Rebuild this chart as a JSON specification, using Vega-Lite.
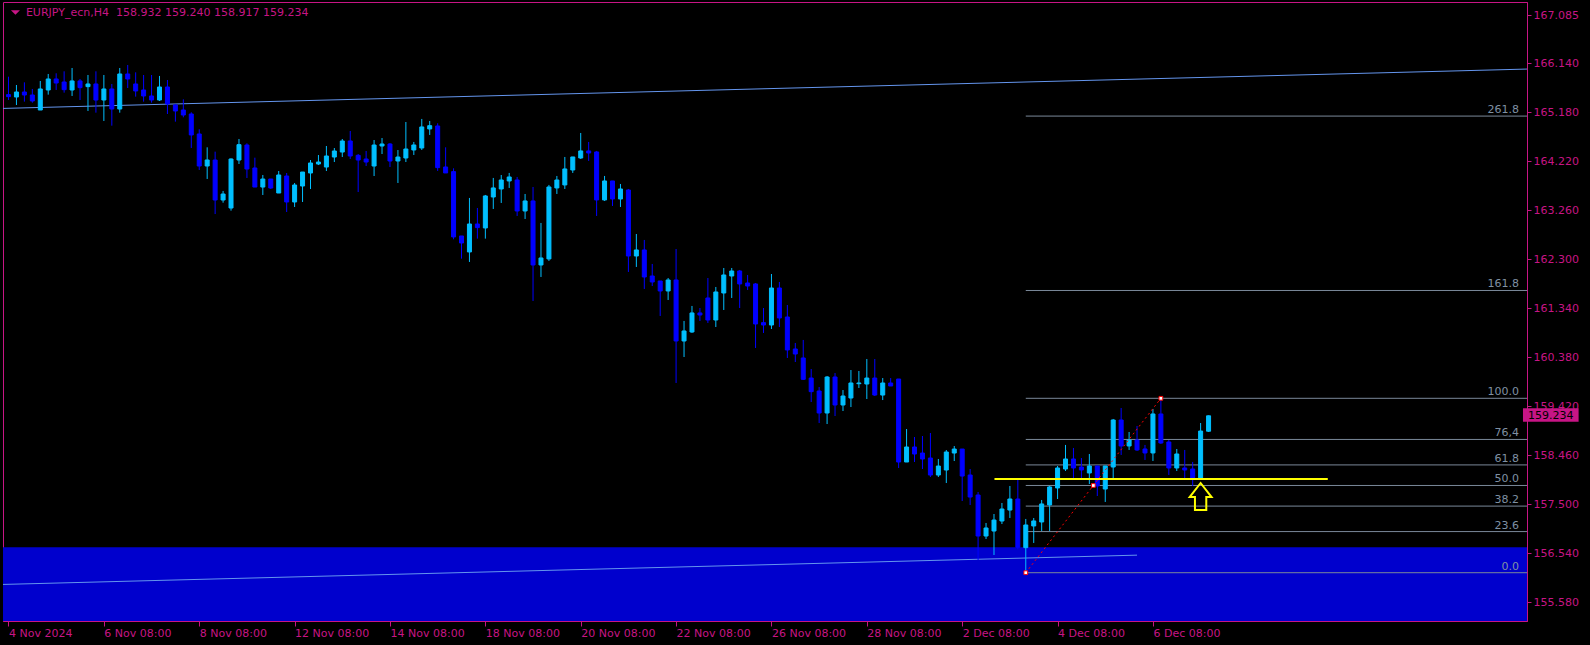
{
 "$schema": "https://vega.github.io/schema/vega-lite/v6.json",
 "width": 1524,
 "height": 619,
 "autosize": {"type": "none"},
 "padding": {"left": 3, "top": 2, "right": 63, "bottom": 24},
 "background": "#000000",
 "datasets": {
  "zone": [{"t1": -2, "t2": 200, "p1": 150, "p2": 156.658}],
  "trend": [
   {"n": "upper", "i": -1, "p": 165.255}, {"n": "upper", "i": 192, "p": 166.031},
   {"n": "lower", "i": -1, "p": 155.929}, {"n": "lower", "i": 142, "p": 156.504}
  ],
  "fibo": [
   {"lvl": "0.0", "p": 156.160}, {"lvl": "23.6", "p": 156.966}, {"lvl": "38.2", "p": 157.465},
   {"lvl": "50.0", "p": 157.869}, {"lvl": "61.8", "p": 158.272}, {"lvl": "76,4", "p": 158.771},
   {"lvl": "100.0", "p": 159.577}, {"lvl": "161.8", "p": 161.689}, {"lvl": "261.8", "p": 165.106}
  ],
  "fibline": [{"i": 128, "p": 156.160}, {"i": 136.5, "p": 157.869}, {"i": 145, "p": 159.577}],
  "yellow": [{"i": 124.06, "p": 157.996}, {"i": 166, "p": 157.996}],
  "arrow": [{"i": 150, "p": 157.653}],
  "last": [{"p": 159.234, "label": "159.234"}],
  "head": [{"label": "EURJPY_ecn,H4\u00a0\u00a0158.932 159.240 158.917 159.234"}],
  "candles": [
{"i":0,"o":165.526,"h":165.878,"l":165.421,"c":165.487},
{"i":1,"o":165.480,"h":165.715,"l":165.323,"c":165.578},
{"i":2,"o":165.578,"h":165.767,"l":165.389,"c":165.519},
{"i":3,"o":165.519,"h":165.637,"l":165.369,"c":165.402},
{"i":4,"o":165.225,"h":165.794,"l":165.225,"c":165.637},
{"i":5,"o":165.617,"h":165.931,"l":165.526,"c":165.833},
{"i":6,"o":165.833,"h":165.944,"l":165.617,"c":165.754},
{"i":7,"o":165.774,"h":165.983,"l":165.565,"c":165.624},
{"i":8,"o":165.617,"h":166.048,"l":165.500,"c":165.794},
{"i":9,"o":165.794,"h":165.833,"l":165.421,"c":165.663},
{"i":10,"o":165.683,"h":165.911,"l":165.206,"c":165.735},
{"i":11,"o":165.735,"h":165.983,"l":165.173,"c":165.421},
{"i":12,"o":165.421,"h":165.911,"l":165.010,"c":165.637},
{"i":13,"o":165.637,"h":165.735,"l":164.918,"c":165.245},
{"i":14,"o":165.245,"h":166.048,"l":165.173,"c":165.931},
{"i":15,"o":165.931,"h":166.107,"l":165.656,"c":165.833},
{"i":16,"o":165.735,"h":165.963,"l":165.487,"c":165.598},
{"i":17,"o":165.617,"h":165.911,"l":165.389,"c":165.500},
{"i":18,"o":165.500,"h":165.911,"l":165.369,"c":165.421},
{"i":19,"o":165.421,"h":165.892,"l":165.402,"c":165.676},
{"i":20,"o":165.676,"h":165.813,"l":165.147,"c":165.343},
{"i":21,"o":165.323,"h":165.343,"l":164.997,"c":165.206},
{"i":22,"o":165.225,"h":165.434,"l":165.082,"c":165.127},
{"i":23,"o":165.147,"h":165.180,"l":164.481,"c":164.736},
{"i":24,"o":164.755,"h":164.847,"l":164.050,"c":164.128},
{"i":25,"o":164.128,"h":164.494,"l":163.874,"c":164.246},
{"i":26,"o":164.245,"h":164.409,"l":163.187,"c":163.462},
{"i":27,"o":163.462,"h":163.639,"l":163.409,"c":163.579},
{"i":28,"o":163.305,"h":164.278,"l":163.253,"c":164.265},
{"i":29,"o":164.245,"h":164.657,"l":164.167,"c":164.546},
{"i":30,"o":164.539,"h":164.572,"l":163.893,"c":164.069},
{"i":31,"o":164.089,"h":164.291,"l":163.716,"c":163.716},
{"i":32,"o":163.716,"h":163.952,"l":163.560,"c":163.873},
{"i":33,"o":163.873,"h":163.873,"l":163.677,"c":163.697},
{"i":34,"o":163.599,"h":164.030,"l":163.599,"c":163.952},
{"i":35,"o":163.932,"h":163.991,"l":163.227,"c":163.423},
{"i":36,"o":163.423,"h":163.795,"l":163.325,"c":163.756},
{"i":37,"o":163.736,"h":164.010,"l":163.423,"c":164.010},
{"i":38,"o":163.991,"h":164.245,"l":163.677,"c":164.187},
{"i":39,"o":164.167,"h":164.343,"l":164.147,"c":164.206},
{"i":40,"o":164.108,"h":164.520,"l":164.030,"c":164.324},
{"i":41,"o":164.304,"h":164.480,"l":164.206,"c":164.422},
{"i":42,"o":164.402,"h":164.657,"l":164.304,"c":164.618},
{"i":43,"o":164.618,"h":164.814,"l":164.265,"c":164.324},
{"i":44,"o":164.337,"h":164.363,"l":163.618,"c":164.245},
{"i":45,"o":164.265,"h":164.422,"l":164.128,"c":164.206},
{"i":46,"o":164.128,"h":164.637,"l":163.932,"c":164.539},
{"i":47,"o":164.520,"h":164.676,"l":164.363,"c":164.559},
{"i":48,"o":164.559,"h":164.578,"l":164.108,"c":164.226},
{"i":49,"o":164.226,"h":164.441,"l":163.795,"c":164.304},
{"i":50,"o":164.285,"h":164.990,"l":164.206,"c":164.461},
{"i":51,"o":164.442,"h":164.599,"l":164.344,"c":164.540},
{"i":52,"o":164.481,"h":165.050,"l":164.442,"c":164.893},
{"i":53,"o":164.854,"h":165.010,"l":164.736,"c":164.918},
{"i":54,"o":164.912,"h":164.965,"l":164.031,"c":164.096},
{"i":55,"o":164.109,"h":164.494,"l":163.992,"c":163.992},
{"i":56,"o":164.018,"h":164.083,"l":162.692,"c":162.738},
{"i":57,"o":162.757,"h":162.757,"l":162.313,"c":162.620},
{"i":58,"o":162.444,"h":163.502,"l":162.248,"c":162.992},
{"i":59,"o":162.992,"h":163.306,"l":162.705,"c":162.921},
{"i":60,"o":162.914,"h":163.561,"l":162.705,"c":163.541},
{"i":61,"o":163.521,"h":163.894,"l":163.286,"c":163.698},
{"i":62,"o":163.678,"h":163.952,"l":163.404,"c":163.854},
{"i":63,"o":163.835,"h":163.992,"l":163.698,"c":163.913},
{"i":64,"o":163.854,"h":163.913,"l":163.149,"c":163.247},
{"i":65,"o":163.247,"h":163.580,"l":163.090,"c":163.443},
{"i":66,"o":163.443,"h":163.717,"l":161.484,"c":162.189},
{"i":67,"o":162.189,"h":163.012,"l":161.954,"c":162.326},
{"i":68,"o":162.307,"h":163.757,"l":162.268,"c":163.717},
{"i":69,"o":163.698,"h":163.933,"l":163.580,"c":163.854},
{"i":70,"o":163.757,"h":164.305,"l":163.678,"c":164.070},
{"i":71,"o":164.050,"h":164.305,"l":163.992,"c":164.305},
{"i":72,"o":164.285,"h":164.775,"l":164.266,"c":164.423},
{"i":73,"o":164.423,"h":164.599,"l":164.227,"c":164.383},
{"i":74,"o":164.403,"h":164.423,"l":163.149,"c":163.463},
{"i":75,"o":163.463,"h":163.933,"l":163.443,"c":163.835},
{"i":76,"o":163.835,"h":163.835,"l":163.345,"c":163.482},
{"i":77,"o":163.482,"h":163.776,"l":163.325,"c":163.678},
{"i":78,"o":163.658,"h":163.678,"l":162.052,"c":162.365},
{"i":79,"o":162.365,"h":162.796,"l":162.150,"c":162.483},
{"i":80,"o":162.483,"h":162.679,"l":161.719,"c":161.954},
{"i":81,"o":161.973,"h":162.209,"l":161.777,"c":161.856},
{"i":82,"o":161.875,"h":161.875,"l":161.190,"c":161.680},
{"i":83,"o":161.680,"h":161.934,"l":161.503,"c":161.895},
{"i":84,"o":161.895,"h":162.502,"l":159.877,"c":160.700},
{"i":85,"o":160.700,"h":161.092,"l":160.386,"c":160.896},
{"i":86,"o":160.876,"h":161.386,"l":160.857,"c":161.249},
{"i":87,"o":161.249,"h":161.346,"l":161.092,"c":161.209},
{"i":88,"o":161.542,"h":161.934,"l":161.053,"c":161.111},
{"i":89,"o":161.111,"h":161.758,"l":160.974,"c":161.660},
{"i":90,"o":161.640,"h":162.130,"l":161.307,"c":161.993},
{"i":91,"o":161.973,"h":162.130,"l":161.542,"c":162.071},
{"i":92,"o":162.071,"h":162.091,"l":161.346,"c":161.817},
{"i":93,"o":161.836,"h":161.993,"l":161.699,"c":161.777},
{"i":94,"o":161.817,"h":161.836,"l":160.563,"c":161.033},
{"i":95,"o":161.059,"h":161.346,"l":160.857,"c":161.013},
{"i":96,"o":161.013,"h":162.012,"l":160.935,"c":161.738},
{"i":97,"o":161.738,"h":161.856,"l":160.974,"c":161.151},
{"i":98,"o":161.170,"h":161.405,"l":160.367,"c":160.524},
{"i":99,"o":160.543,"h":160.661,"l":160.288,"c":160.445},
{"i":100,"o":160.367,"h":160.720,"l":159.936,"c":159.949},
{"i":101,"o":159.974,"h":160.151,"l":159.504,"c":159.707},
{"i":102,"o":159.720,"h":159.798,"l":159.093,"c":159.289},
{"i":103,"o":159.289,"h":160.014,"l":159.073,"c":159.994},
{"i":104,"o":159.994,"h":160.072,"l":159.230,"c":159.446},
{"i":105,"o":159.446,"h":159.739,"l":159.328,"c":159.622},
{"i":106,"o":159.583,"h":160.131,"l":159.406,"c":159.877},
{"i":107,"o":159.863,"h":160.112,"l":159.779,"c":159.877},
{"i":108,"o":159.857,"h":160.347,"l":159.563,"c":159.974},
{"i":109,"o":159.974,"h":160.347,"l":159.622,"c":159.641},
{"i":110,"o":159.641,"h":159.974,"l":159.543,"c":159.877},
{"i":111,"o":159.877,"h":159.974,"l":159.818,"c":159.818},
{"i":112,"o":159.955,"h":159.955,"l":158.211,"c":158.329},
{"i":113,"o":158.329,"h":158.975,"l":158.329,"c":158.623},
{"i":114,"o":158.623,"h":158.819,"l":158.329,"c":158.486},
{"i":115,"o":158.505,"h":158.838,"l":158.192,"c":158.388},
{"i":116,"o":158.407,"h":158.897,"l":158.035,"c":158.074},
{"i":117,"o":158.074,"h":158.388,"l":158.035,"c":158.250},
{"i":118,"o":158.172,"h":158.564,"l":157.917,"c":158.525},
{"i":119,"o":158.505,"h":158.642,"l":158.348,"c":158.583},
{"i":120,"o":158.583,"h":158.583,"l":157.565,"c":158.054},
{"i":121,"o":158.074,"h":158.192,"l":157.486,"c":157.643},
{"i":122,"o":157.682,"h":157.741,"l":156.409,"c":156.879},
{"i":123,"o":156.879,"h":157.134,"l":156.820,"c":157.036},
{"i":124,"o":156.977,"h":157.310,"l":156.507,"c":157.192},
{"i":125,"o":157.173,"h":157.526,"l":157.114,"c":157.408},
{"i":126,"o":157.388,"h":157.859,"l":157.232,"c":157.604},
{"i":127,"o":157.604,"h":157.977,"l":156.620,"c":156.658},
{"i":128,"o":156.651,"h":157.213,"l":156.160,"c":157.095},
{"i":129,"o":157.076,"h":157.232,"l":156.743,"c":157.174},
{"i":130,"o":157.154,"h":157.585,"l":156.978,"c":157.507},
{"i":131,"o":157.487,"h":157.859,"l":156.978,"c":157.840},
{"i":132,"o":157.820,"h":158.251,"l":157.604,"c":158.212},
{"i":133,"o":158.192,"h":158.663,"l":158.153,"c":158.388},
{"i":134,"o":158.388,"h":158.604,"l":158.016,"c":158.212},
{"i":135,"o":158.231,"h":158.407,"l":158.016,"c":158.173},
{"i":136,"o":158.114,"h":158.486,"l":157.898,"c":158.251},
{"i":137,"o":158.251,"h":158.251,"l":157.663,"c":157.859},
{"i":138,"o":157.800,"h":158.251,"l":157.546,"c":158.251},
{"i":139,"o":158.231,"h":159.172,"l":157.996,"c":159.152},
{"i":140,"o":159.152,"h":159.387,"l":158.467,"c":158.643},
{"i":141,"o":158.643,"h":158.917,"l":158.565,"c":158.760},
{"i":142,"o":158.760,"h":159.035,"l":158.545,"c":158.565},
{"i":143,"o":158.584,"h":158.663,"l":158.369,"c":158.506},
{"i":144,"o":158.506,"h":159.368,"l":158.349,"c":159.270},
{"i":145,"o":159.270,"h":159.577,"l":158.682,"c":158.701},
{"i":146,"o":158.721,"h":158.760,"l":158.075,"c":158.212},
{"i":147,"o":158.212,"h":158.584,"l":158.153,"c":158.486},
{"i":148,"o":158.212,"h":158.565,"l":158.016,"c":158.173},
{"i":149,"o":158.192,"h":158.330,"l":157.859,"c":158.016},
{"i":150,"o":158.016,"h":159.093,"l":158.016,"c":158.936},
{"i":151,"o":158.932,"h":159.240,"l":158.917,"c":159.234}
  ]
 },
 "layer": [
  {
   "data": {"name": "zone"},
   "mark": {"type": "rect", "color": "#0000CD", "clip": true},
   "encoding": {
    "x": {"field": "t1", "type": "quantitative", "title": null,
      "scale": {"domain": [-0.0625, 190.4375], "nice": false, "zero": false},
      "axis": {"values": [0, 12, 24, 36, 48, 60, 72, 84, 96, 108, 120, 132, 144],
        "labelExpr": "['4 Nov 2024','6 Nov 08:00','8 Nov 08:00','12 Nov 08:00','14 Nov 08:00','18 Nov 08:00','20 Nov 08:00','22 Nov 08:00','26 Nov 08:00','28 Nov 08:00','2 Dec 08:00','4 Dec 08:00','6 Dec 08:00'][round(datum.value/12)]",
        "labelAlign": "left", "labelPadding": 1, "tickSize": 5, "labelFlush": false, "labelOverlap": false, "labelBaseline": "top"}},
    "x2": {"field": "t2"},
    "y": {"field": "p1", "type": "quantitative", "title": null,
      "scale": {"domain": [155.214, 167.341], "nice": false, "zero": false},
      "axis": {"orient": "right", "values": [155.58, 156.54, 157.5, 158.46, 159.42, 160.38, 161.34, 162.3, 163.26, 164.22, 165.18, 166.14, 167.085],
        "format": ".3f", "labelPadding": 2, "tickSize": 4, "labelBaseline": "middle"}},
    "y2": {"field": "p2"}
   }
  },
  {
   "data": {"name": "trend"},
   "mark": {"type": "line", "color": "#6495ED", "strokeWidth": 1, "clip": true},
   "encoding": {
    "x": {"field": "i", "type": "quantitative", "title": null},
    "y": {"field": "p", "type": "quantitative", "title": null},
    "detail": {"field": "n"}
   }
  },
  {
   "data": {"name": "fibo"},
   "mark": {"type": "rule", "color": "#7A8899", "strokeWidth": 1, "clip": true},
   "encoding": {
    "x": {"datum": 128},
    "x2": {"datum": 195},
    "y": {"field": "p", "type": "quantitative", "title": null}
   }
  },
  {
   "data": {"name": "fibo"},
   "mark": {"type": "text", "color": "#7F90A3", "font": "DejaVu Sans", "fontSize": 11, "align": "right", "baseline": "alphabetic", "dx": -3, "dy": -3},
   "encoding": {
    "x": {"datum": 190.4375},
    "y": {"field": "p", "type": "quantitative", "title": null},
    "text": {"field": "lvl"}
   }
  },
  {
   "data": {"name": "candles"},
   "mark": {"type": "rule", "strokeWidth": 1, "clip": true},
   "encoding": {
    "x": {"field": "i", "type": "quantitative", "title": null},
    "y": {"field": "l", "type": "quantitative", "title": null},
    "y2": {"field": "h"},
    "color": {"condition": {"test": "datum.c >= datum.o", "value": "#00BFFF"}, "value": "#0000FF"}
   }
  },
  {
   "data": {"name": "candles"},
   "mark": {"type": "bar", "size": 4, "strokeWidth": 1, "clip": true},
   "encoding": {
    "x": {"field": "i", "type": "quantitative", "title": null},
    "y": {"field": "o", "type": "quantitative", "title": null},
    "y2": {"field": "c"},
    "color": {"condition": {"test": "datum.c >= datum.o", "value": "#00BFFF"}, "value": "#0000FF"},
    "stroke": {"condition": {"test": "datum.c >= datum.o", "value": "#00BFFF"}, "value": "#0000FF"}
   }
  },
  {
   "data": {"name": "yellow"},
   "mark": {"type": "line", "color": "#FFFF00", "strokeWidth": 2, "clip": true},
   "encoding": {
    "x": {"field": "i", "type": "quantitative", "title": null},
    "y": {"field": "p", "type": "quantitative", "title": null}
   }
  },
  {
   "data": {"name": "fibline"},
   "mark": {"type": "line", "color": "#FF0000", "strokeWidth": 1, "strokeDash": [2, 3], "clip": true},
   "encoding": {
    "x": {"field": "i", "type": "quantitative", "title": null},
    "y": {"field": "p", "type": "quantitative", "title": null}
   }
  },
  {
   "data": {"name": "fibline"},
   "mark": {"type": "square", "size": 14, "filled": true, "fill": "#FFFFFF", "stroke": "#FF0000", "strokeWidth": 1, "opacity": 1},
   "encoding": {
    "x": {"field": "i", "type": "quantitative", "title": null},
    "y": {"field": "p", "type": "quantitative", "title": null}
   }
  },
  {
   "data": {"name": "arrow"},
   "mark": {"type": "point", "shape": "M0,-1L0.81,0.04L0.42,0.04L0.42,1L-0.42,1L-0.42,0.04L-0.81,0.04Z", "size": 729, "filled": false, "stroke": "#FFFF00", "strokeWidth": 2, "opacity": 1},
   "encoding": {
    "x": {"field": "i", "type": "quantitative", "title": null},
    "y": {"field": "p", "type": "quantitative", "title": null}
   }
  },
  {
   "data": {"name": "last"},
   "mark": {"type": "rect", "color": "#C71585"},
   "encoding": {
    "x": {"datum": 190.56},
    "x2": {"datum": 197.56},
    "y": {"datum": 159.381},
    "y2": {"datum": 159.119}
   }
  },
  {
   "data": {"name": "last"},
   "mark": {"type": "text", "color": "#000000", "font": "DejaVu Sans", "fontSize": 11, "align": "left", "baseline": "middle"},
   "encoding": {
    "x": {"datum": 191.2},
    "y": {"field": "p", "type": "quantitative", "title": null},
    "text": {"field": "label"}
   }
  },
  {
   "data": {"name": "head"},
   "mark": {"type": "point", "shape": "M-1,-0.5L1,-0.5L0,0.5Z", "size": 81, "filled": true, "color": "#C71585", "opacity": 1},
   "encoding": {
    "x": {"datum": 0.875},
    "y": {"datum": 167.135}
   }
  },
  {
   "data": {"name": "head"},
   "mark": {"type": "text", "color": "#C71585", "font": "DejaVu Sans", "fontSize": 11, "align": "left", "baseline": "middle"},
   "encoding": {
    "x": {"datum": 2.19},
    "y": {"datum": 167.131},
    "text": {"field": "label"}
   }
  }
 ],
 "config": {
  "view": {"stroke": "#C71585", "strokeWidth": 1, "fill": "#000000"},
  "axis": {"grid": false, "domainColor": "#C71585", "tickColor": "#C71585", "labelColor": "#C71585",
    "labelFont": "DejaVu Sans", "labelFontSize": 11, "domainWidth": 1, "tickWidth": 1}
 }
}
